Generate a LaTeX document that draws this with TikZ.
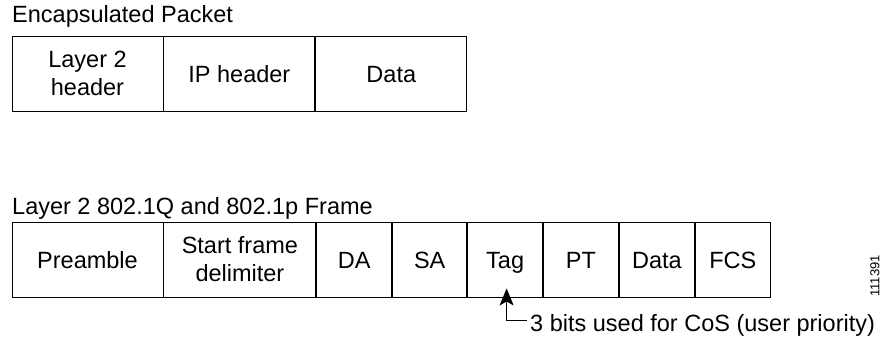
\documentclass[tikz,border=0pt]{standalone}
\usepackage{fontspec}
\setmainfont{Liberation Sans}
\usetikzlibrary{arrows.meta}
\usetikzlibrary{positioning}

\tikzset{
  field/.style={draw, line width=0.9pt, inner sep=0pt, minimum height=75pt,
    align=center, font=\fontsize{23.5}{28}\selectfont},
  onefield/.style={field, text height=17pt, text depth=0pt},
  title/.style={anchor=base west, inner sep=0pt, font=\fontsize{23.5}{28}\selectfont},
}

\begin{document}
\begin{tikzpicture}[x=1pt,y=-1pt]
      \useasboundingbox (0,0) rectangle (883,337);

      % encapsulated packet
      \node[title] (enctitle) at (12,23) {Encapsulated Packet};
      \node[field, minimum width=151pt] (l2hdr) at (87.5,73.5) {Layer 2\\header};
      \node[onefield, minimum width=151pt, right=0pt of l2hdr] (iphdr) {IP header};
      \node[onefield, minimum width=151pt, right=0pt of iphdr] (encdata) {Data};

      % 802.1Q frame
      \node[title] (frametitle) at (12,214) {Layer 2 802.1Q and 802.1p Frame};
      \node[onefield, minimum width=151pt] (pre) at (87.5,259.5) {Preamble};
      \node[field, minimum width=152pt, right=0pt of pre] (sfd) {Start frame\\delimiter};
      \node[onefield, minimum width=75pt, right=0pt of sfd] (da) {DA};
      \node[onefield, minimum width=74pt, right=0pt of da] (sa) {SA};
      \node[onefield, minimum width=75pt, right=0pt of sa] (tag) {Tag};
      \node[onefield, minimum width=75pt, right=0pt of tag] (pt) {PT};
      \node[onefield, minimum width=75pt, right=0pt of pt] (data) {Data};
      \node[onefield, minimum width=75pt, right=0pt of data] (fcs) {FCS};

      % CoS note
      \node[anchor=base west, inner sep=0pt, font=\fontsize{23.5}{28}\selectfont] (cos) at (530,331) {3 bits used for CoS (user priority)};
      \coordinate (cosend) at (527,320);
      \draw[-{Stealth[length=17pt,width=14pt,inset=4pt]}, line width=1pt] (cosend) -| ([xshift=1.5pt,yshift=9pt]tag.south);

      \node[rotate=90, inner sep=0pt, font=\fontsize{13}{15}\selectfont] (fignum) at (875,276) {111391};
\end{tikzpicture}
\end{document}
